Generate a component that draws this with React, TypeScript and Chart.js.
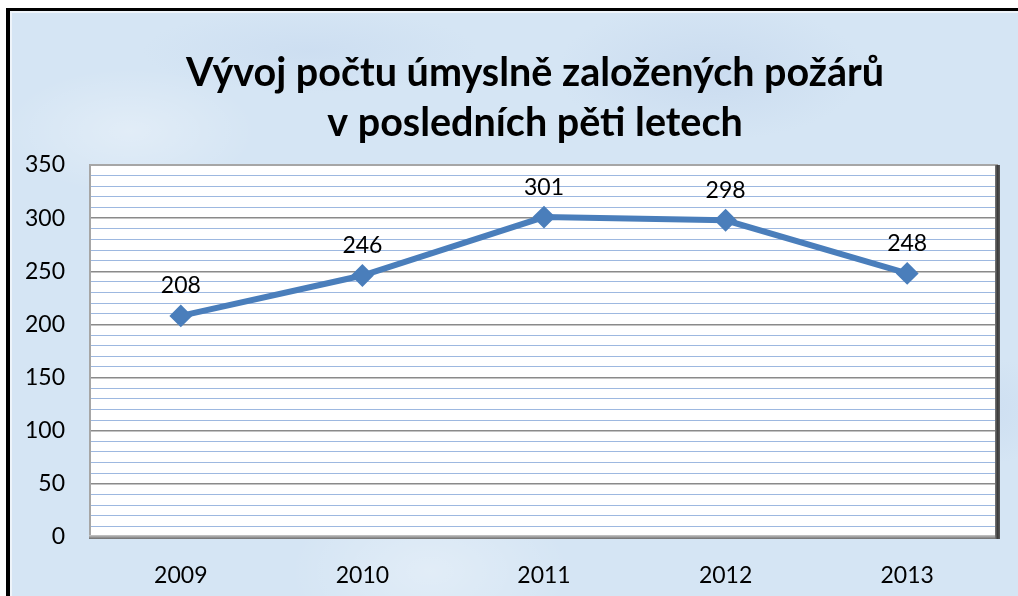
import React, { useEffect, useRef } from "react";
import { Chart, registerables } from "chart.js";

Chart.register(...registerables);

const titleLines = ["Vývoj počtu úmyslně založených požárů", "v posledních pěti letech"];
const years = ["2009", "2010", "2011", "2012", "2013"];
const fires = [208, 246, 301, 298, 248];
const yMin = 0;
const yMax = 350;
const yStep = 10;
const yLabelStep = 50;

const FONT = "Lato, 'Open Sans', sans-serif";

const titleDraw = {
  id: "titleDraw",
  afterDraw(chart: any) {
    const { ctx } = chart;
    ctx.save();
    ctx.fillStyle = "#000000";
    ctx.font = `bold 39.5px ${FONT}`;
    ctx.textAlign = "center";
    ctx.textBaseline = "middle";
    titleLines.forEach((line, i) => {
      ctx.fillText(line, 535, 73 + i * 50);
    });
    ctx.restore();
  },
};

const plotFrame = {
  id: "plotFrame",
  beforeDraw(chart: any) {
    const { ctx, chartArea: a } = chart;
    ctx.save();
    ctx.fillStyle = "#ffffff";
    ctx.fillRect(a.left, a.top, a.right - a.left, a.bottom - a.top);
    ctx.restore();
  },
  beforeDatasetsDraw(chart: any) {
    const { ctx, chartArea: a } = chart;
    ctx.save();
    ctx.strokeStyle = "#a6a6a6";
    ctx.lineWidth = 2;
    ctx.beginPath();
    ctx.moveTo(a.left, a.bottom);
    ctx.lineTo(a.left, a.top);
    ctx.lineTo(a.right, a.top);
    ctx.stroke();
    const g = ctx.createLinearGradient(0, a.bottom - 2, 0, a.bottom + 2);
    g.addColorStop(0, "#c8c8c8");
    g.addColorStop(1, "#6e6e6e");
    ctx.fillStyle = g;
    ctx.fillRect(a.left - 1, a.bottom - 2, a.right - a.left + 1, 4);
    const w = ctx.createLinearGradient(a.right - 3, 0, a.right + 2, 0);
    w.addColorStop(0, "#7a7a7a");
    w.addColorStop(0.5, "#3c3c3c");
    w.addColorStop(1, "#5a5a5a");
    ctx.fillStyle = w;
    ctx.fillRect(a.right - 3, a.top, 5, a.bottom - a.top + 2);
    ctx.restore();
  },
};

const pointLabels = {
  id: "pointLabels",
  afterDatasetsDraw(chart: any) {
    const { ctx } = chart;
    const meta = chart.getDatasetMeta(0);
    ctx.save();
    ctx.fillStyle = "#000000";
    ctx.font = `23px ${FONT}`;
    ctx.textAlign = "center";
    ctx.textBaseline = "middle";
    meta.data.forEach((pt: any, i: number) => {
      ctx.fillText(String(fires[i]), pt.x, pt.y - 30);
    });
    ctx.restore();
  },
};

export default function App() {
  const ref = useRef<HTMLCanvasElement | null>(null);

  useEffect(() => {
    if (!ref.current) return;
    const chart = new Chart(ref.current, {
      type: "line",
      data: {
        labels: years,
        datasets: [
          {
            data: fires,
            borderColor: "#4a7ebb",
            backgroundColor: "#4a7ebb",
            borderWidth: 6,
            pointStyle: "rectRot",
            pointRadius: 10,
            pointBorderWidth: 2,
            pointBorderColor: "#4a7ebb",
            pointBackgroundColor: "#4a7ebb",
            tension: 0,
          },
        ],
      },
      options: {
        animation: false,
        responsive: true,
        maintainAspectRatio: false,
        layout: { padding: { top: 165, left: 0, right: 20, bottom: 0 } },
        plugins: {
          legend: { display: false },
          tooltip: { enabled: false },
          title: { display: false },
        },
        scales: {
          x: {
            offset: true,
            grid: { display: false, drawTicks: false },
            border: { display: false },
            ticks: { color: "#000000", font: { family: FONT, size: 23 }, padding: 25, maxRotation: 0 },
            afterFit(s: any) {
              s.height = 59;
            },
          },
          y: {
            min: yMin,
            max: yMax,
            grid: {
              drawTicks: false,
              color: (c: any) => (c.tick && c.tick.value % yLabelStep === 0 ? "#8a8a8a" : "#9db8e0"),
              lineWidth: (c: any) => (c.tick && c.tick.value % yLabelStep === 0 ? 1.5 : 1),
            },
            border: { display: false },
            ticks: {
              stepSize: yStep,
              autoSkip: false,
              color: "#000000",
              font: { family: FONT, size: 23 },
              padding: 25,
              callback: (v: any) => (Number(v) % yLabelStep === 0 ? String(v) : ""),
            },
            afterFit(s: any) {
              s.width = 90;
            },
          },
        },
      },
      plugins: [plotFrame, pointLabels, titleDraw],
    });
    return () => chart.destroy();
  }, []);

  const bg =
    "radial-gradient(ellipse 180px 90px at 120px 120px, rgba(255,255,255,0.3), rgba(255,255,255,0) 70%)," +
    "radial-gradient(ellipse 220px 100px at 700px 60px, rgba(185,205,232,0.4), rgba(185,205,232,0) 70%)," +
    "radial-gradient(ellipse 200px 120px at 420px 560px, rgba(255,255,255,0.3), rgba(255,255,255,0) 70%)," +
    "radial-gradient(ellipse 160px 80px at 950px 400px, rgba(190,210,236,0.4), rgba(190,210,236,0) 70%)," +
    "radial-gradient(ellipse 240px 60px at 300px 40px, rgba(190,210,236,0.35), rgba(190,210,236,0) 70%)," +
    "#d5e5f4";

  return (
    <div style={{ position: "fixed", left: 0, top: 0, width: 1018, height: 596, background: "#ffffff", overflow: "hidden" }}>
      <div
        style={{
          position: "absolute",
          left: 6,
          top: 8,
          right: 0,
          bottom: 0,
          borderLeft: "4px solid #000",
          borderTop: "3px solid #000",
          boxShadow: "inset 2px 2px 0 #eef4fa",
          background: bg,
        }}
      />
      <div style={{ position: "absolute", left: 0, top: 0, width: 1018, height: 596 }}>
        <canvas ref={ref} />
      </div>
    </div>
  );
}
